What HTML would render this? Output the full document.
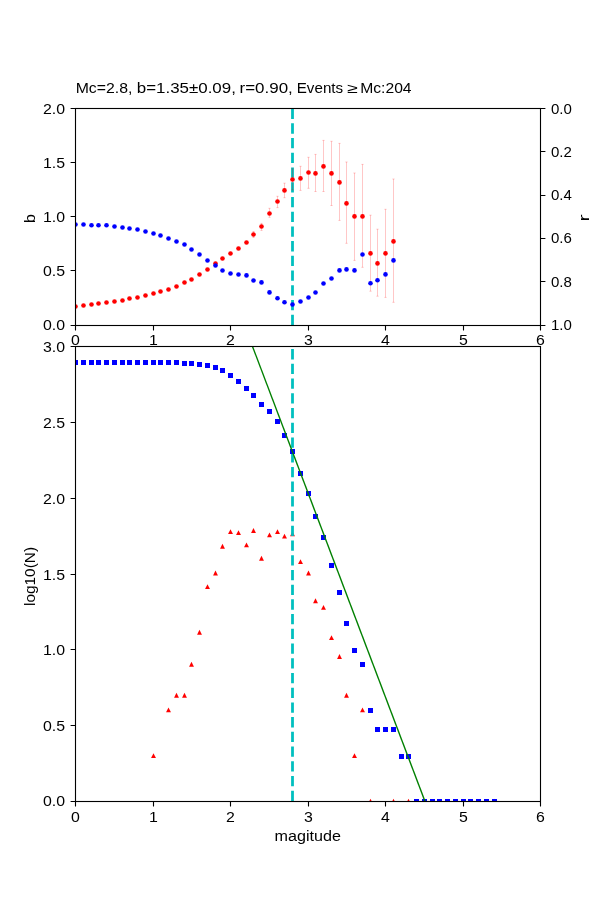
<!DOCTYPE html><html><head><meta charset="utf-8"><style>html,body{margin:0;padding:0;background:#fff;}svg{display:block;will-change:transform;}text{font-family:"Liberation Sans",sans-serif;fill:#000;}</style></head><body>
<svg width="600" height="900" viewBox="0 0 600 900">
<rect x="0" y="0" width="600" height="900" fill="#fff"/>
<defs><clipPath id="c1"><rect x="75" y="108" width="465" height="217"/></clipPath><clipPath id="c2"><rect x="75" y="346" width="465" height="455"/></clipPath></defs>
<g clip-path="url(#c1)">
<line x1="292.5" y1="325" x2="292.5" y2="108" stroke="#00bfbf" stroke-width="2.78" stroke-dasharray="10.28 4.44"/>
<path d="M253.5 231.5V237.5M252.4 231.5H254.6M252.4 237.5H254.6" stroke="#ff0000" stroke-opacity="0.22" stroke-width="1.0" fill="none"/>
<path d="M261.5 223.4V230.4M260.4 223.4H262.6M260.4 230.4H262.6" stroke="#ff0000" stroke-opacity="0.22" stroke-width="1.0" fill="none"/>
<path d="M269.5 208.3V217.3M268.4 208.3H270.6M268.4 217.3H270.6" stroke="#ff0000" stroke-opacity="0.22" stroke-width="1.0" fill="none"/>
<path d="M277.5 196.3V207.6M276.4 196.3H278.6M276.4 207.6H278.6" stroke="#ff0000" stroke-opacity="0.22" stroke-width="1.0" fill="none"/>
<path d="M284.5 183.2V197.7M283.4 183.2H285.6M283.4 197.7H285.6" stroke="#ff0000" stroke-opacity="0.22" stroke-width="1.0" fill="none"/>
<path d="M292.5 168.9V189.9M291.4 168.9H293.6M291.4 189.9H293.6" stroke="#ff0000" stroke-opacity="0.22" stroke-width="1.0" fill="none"/>
<path d="M300.5 166.3V190.4M299.4 166.3H301.6M299.4 190.4H301.6" stroke="#ff0000" stroke-opacity="0.22" stroke-width="1.0" fill="none"/>
<path d="M308.5 157.3V188.3M307.4 157.3H309.6M307.4 188.3H309.6" stroke="#ff0000" stroke-opacity="0.22" stroke-width="1.0" fill="none"/>
<path d="M315.5 154.4V191.5M314.4 154.4H316.6M314.4 191.5H316.6" stroke="#ff0000" stroke-opacity="0.22" stroke-width="1.0" fill="none"/>
<path d="M323.5 140.4V191.5M322.4 140.4H324.6M322.4 191.5H324.6" stroke="#ff0000" stroke-opacity="0.22" stroke-width="1.0" fill="none"/>
<path d="M331.5 141.3V205.5M330.4 141.3H332.6M330.4 205.5H332.6" stroke="#ff0000" stroke-opacity="0.22" stroke-width="1.0" fill="none"/>
<path d="M339.5 143.4V220.4M338.4 143.4H340.6M338.4 220.4H340.6" stroke="#ff0000" stroke-opacity="0.22" stroke-width="1.0" fill="none"/>
<path d="M346.5 162.0V243.3M345.4 162.0H347.6M345.4 243.3H347.6" stroke="#ff0000" stroke-opacity="0.22" stroke-width="1.0" fill="none"/>
<path d="M354.5 173.0V260.4M353.4 173.0H355.6M353.4 260.4H355.6" stroke="#ff0000" stroke-opacity="0.22" stroke-width="1.0" fill="none"/>
<path d="M362.5 164.4V267.3M361.4 164.4H363.6M361.4 267.3H363.6" stroke="#ff0000" stroke-opacity="0.22" stroke-width="1.0" fill="none"/>
<path d="M370.5 215.2V291.2M369.4 215.2H371.6M369.4 291.2H371.6" stroke="#ff0000" stroke-opacity="0.22" stroke-width="1.0" fill="none"/>
<path d="M377.5 229.2V296.2M376.4 229.2H378.6M376.4 296.2H378.6" stroke="#ff0000" stroke-opacity="0.22" stroke-width="1.0" fill="none"/>
<path d="M385.5 209.3V297.4M384.4 209.3H386.6M384.4 297.4H386.6" stroke="#ff0000" stroke-opacity="0.22" stroke-width="1.0" fill="none"/>
<path d="M393.5 179.0V302.3M392.4 179.0H394.6M392.4 302.3H394.6" stroke="#ff0000" stroke-opacity="0.22" stroke-width="1.0" fill="none"/>
<circle cx="75.5" cy="306.5" r="2.3" fill="#ff0000"/>
<circle cx="83.5" cy="305.5" r="2.3" fill="#ff0000"/>
<circle cx="91.5" cy="304.5" r="2.3" fill="#ff0000"/>
<circle cx="98.5" cy="303.5" r="2.3" fill="#ff0000"/>
<circle cx="106.5" cy="302.5" r="2.3" fill="#ff0000"/>
<circle cx="114.5" cy="301.5" r="2.3" fill="#ff0000"/>
<circle cx="122.5" cy="300.5" r="2.3" fill="#ff0000"/>
<circle cx="129.5" cy="298.5" r="2.3" fill="#ff0000"/>
<circle cx="137.5" cy="297.5" r="2.3" fill="#ff0000"/>
<circle cx="145.5" cy="295.5" r="2.3" fill="#ff0000"/>
<circle cx="153.5" cy="293.5" r="2.3" fill="#ff0000"/>
<circle cx="160.5" cy="291.5" r="2.3" fill="#ff0000"/>
<circle cx="168.5" cy="289.5" r="2.3" fill="#ff0000"/>
<circle cx="176.5" cy="286.5" r="2.3" fill="#ff0000"/>
<circle cx="184.5" cy="282.5" r="2.3" fill="#ff0000"/>
<circle cx="191.5" cy="279.5" r="2.3" fill="#ff0000"/>
<circle cx="199.5" cy="274.5" r="2.3" fill="#ff0000"/>
<circle cx="207.5" cy="269.5" r="2.3" fill="#ff0000"/>
<circle cx="215.5" cy="263.5" r="2.3" fill="#ff0000"/>
<circle cx="222.5" cy="258.5" r="2.3" fill="#ff0000"/>
<circle cx="230.5" cy="253.5" r="2.3" fill="#ff0000"/>
<circle cx="238.5" cy="248.5" r="2.3" fill="#ff0000"/>
<circle cx="246.5" cy="242.5" r="2.3" fill="#ff0000"/>
<circle cx="253.5" cy="234.5" r="2.3" fill="#ff0000"/>
<circle cx="261.5" cy="226.5" r="2.3" fill="#ff0000"/>
<circle cx="269.5" cy="213.5" r="2.3" fill="#ff0000"/>
<circle cx="277.5" cy="201.5" r="2.3" fill="#ff0000"/>
<circle cx="284.5" cy="190.4" r="2.3" fill="#ff0000"/>
<circle cx="292.5" cy="179.5" r="2.3" fill="#ff0000"/>
<circle cx="300.5" cy="178.4" r="2.3" fill="#ff0000"/>
<circle cx="308.5" cy="172.5" r="2.3" fill="#ff0000"/>
<circle cx="315.5" cy="173.4" r="2.3" fill="#ff0000"/>
<circle cx="323.5" cy="166.4" r="2.3" fill="#ff0000"/>
<circle cx="331.5" cy="173.4" r="2.3" fill="#ff0000"/>
<circle cx="339.5" cy="182.4" r="2.3" fill="#ff0000"/>
<circle cx="346.5" cy="203.4" r="2.3" fill="#ff0000"/>
<circle cx="354.5" cy="216.4" r="2.3" fill="#ff0000"/>
<circle cx="362.5" cy="216.4" r="2.3" fill="#ff0000"/>
<circle cx="370.5" cy="253.4" r="2.3" fill="#ff0000"/>
<circle cx="377.5" cy="263.4" r="2.3" fill="#ff0000"/>
<circle cx="385.5" cy="253.4" r="2.3" fill="#ff0000"/>
<circle cx="393.5" cy="241.4" r="2.3" fill="#ff0000"/>
<circle cx="75.5" cy="224.5" r="2.3" fill="#0000ff"/>
<circle cx="83.5" cy="224.5" r="2.3" fill="#0000ff"/>
<circle cx="91.5" cy="225.3" r="2.3" fill="#0000ff"/>
<circle cx="98.5" cy="225.3" r="2.3" fill="#0000ff"/>
<circle cx="106.5" cy="225.3" r="2.3" fill="#0000ff"/>
<circle cx="114.5" cy="226.5" r="2.3" fill="#0000ff"/>
<circle cx="122.5" cy="227.5" r="2.3" fill="#0000ff"/>
<circle cx="129.5" cy="228.5" r="2.3" fill="#0000ff"/>
<circle cx="137.5" cy="229.5" r="2.3" fill="#0000ff"/>
<circle cx="145.5" cy="231.5" r="2.3" fill="#0000ff"/>
<circle cx="153.5" cy="233.5" r="2.3" fill="#0000ff"/>
<circle cx="160.5" cy="235.5" r="2.3" fill="#0000ff"/>
<circle cx="168.5" cy="238.5" r="2.3" fill="#0000ff"/>
<circle cx="176.5" cy="241.5" r="2.3" fill="#0000ff"/>
<circle cx="184.5" cy="244.5" r="2.3" fill="#0000ff"/>
<circle cx="191.5" cy="249.5" r="2.3" fill="#0000ff"/>
<circle cx="199.5" cy="254.5" r="2.3" fill="#0000ff"/>
<circle cx="207.5" cy="260.5" r="2.3" fill="#0000ff"/>
<circle cx="215.5" cy="265.5" r="2.3" fill="#0000ff"/>
<circle cx="222.5" cy="270.5" r="2.3" fill="#0000ff"/>
<circle cx="230.5" cy="273.5" r="2.3" fill="#0000ff"/>
<circle cx="238.5" cy="274.5" r="2.3" fill="#0000ff"/>
<circle cx="246.5" cy="275.4" r="2.3" fill="#0000ff"/>
<circle cx="253.5" cy="280.5" r="2.3" fill="#0000ff"/>
<circle cx="261.5" cy="282.4" r="2.3" fill="#0000ff"/>
<circle cx="269.5" cy="292.4" r="2.3" fill="#0000ff"/>
<circle cx="277.5" cy="298.3" r="2.3" fill="#0000ff"/>
<circle cx="284.5" cy="302.3" r="2.3" fill="#0000ff"/>
<circle cx="292.5" cy="304.5" r="2.3" fill="#0000ff"/>
<circle cx="300.5" cy="301.5" r="2.3" fill="#0000ff"/>
<circle cx="308.5" cy="297.5" r="2.3" fill="#0000ff"/>
<circle cx="315.5" cy="292.5" r="2.3" fill="#0000ff"/>
<circle cx="323.5" cy="283.5" r="2.3" fill="#0000ff"/>
<circle cx="331.5" cy="278.5" r="2.3" fill="#0000ff"/>
<circle cx="339.5" cy="270.4" r="2.3" fill="#0000ff"/>
<circle cx="346.5" cy="269.4" r="2.3" fill="#0000ff"/>
<circle cx="354.5" cy="270.4" r="2.3" fill="#0000ff"/>
<circle cx="362.5" cy="254.5" r="2.3" fill="#0000ff"/>
<circle cx="370.5" cy="283.3" r="2.3" fill="#0000ff"/>
<circle cx="377.5" cy="280.3" r="2.3" fill="#0000ff"/>
<circle cx="385.5" cy="274.4" r="2.3" fill="#0000ff"/>
<circle cx="393.5" cy="260.4" r="2.3" fill="#0000ff"/>
</g>
<rect x="75.5" y="108.5" width="465" height="217" fill="none" stroke="#000" stroke-width="1.11"/>
<text x="75.50" y="344.90" text-anchor="middle" font-size="13.89" textLength="8.84" lengthAdjust="spacingAndGlyphs">0</text>
<text x="153.50" y="344.90" text-anchor="middle" font-size="13.89" textLength="8.84" lengthAdjust="spacingAndGlyphs">1</text>
<text x="230.50" y="344.90" text-anchor="middle" font-size="13.89" textLength="8.84" lengthAdjust="spacingAndGlyphs">2</text>
<text x="308.50" y="344.90" text-anchor="middle" font-size="13.89" textLength="8.84" lengthAdjust="spacingAndGlyphs">3</text>
<text x="385.50" y="344.90" text-anchor="middle" font-size="13.89" textLength="8.84" lengthAdjust="spacingAndGlyphs">4</text>
<text x="463.50" y="344.90" text-anchor="middle" font-size="13.89" textLength="8.84" lengthAdjust="spacingAndGlyphs">5</text>
<text x="540.50" y="344.90" text-anchor="middle" font-size="13.89" textLength="8.84" lengthAdjust="spacingAndGlyphs">6</text>
<text x="65.00" y="329.80" text-anchor="end" font-size="13.89" textLength="22.09" lengthAdjust="spacingAndGlyphs">0.0</text>
<text x="65.00" y="275.80" text-anchor="end" font-size="13.89" textLength="22.09" lengthAdjust="spacingAndGlyphs">0.5</text>
<text x="65.00" y="221.80" text-anchor="end" font-size="13.89" textLength="22.09" lengthAdjust="spacingAndGlyphs">1.0</text>
<text x="65.00" y="167.80" text-anchor="end" font-size="13.89" textLength="22.09" lengthAdjust="spacingAndGlyphs">1.5</text>
<text x="65.00" y="113.80" text-anchor="end" font-size="13.89" textLength="22.09" lengthAdjust="spacingAndGlyphs">2.0</text>
<text x="551.00" y="113.70" text-anchor="start" font-size="13.89" textLength="20.89" lengthAdjust="spacingAndGlyphs">0.0</text>
<text x="551.00" y="157.40" text-anchor="start" font-size="13.89" textLength="20.89" lengthAdjust="spacingAndGlyphs">0.2</text>
<text x="551.00" y="200.40" text-anchor="start" font-size="13.89" textLength="20.89" lengthAdjust="spacingAndGlyphs">0.4</text>
<text x="551.00" y="242.60" text-anchor="start" font-size="13.89" textLength="20.89" lengthAdjust="spacingAndGlyphs">0.6</text>
<text x="551.00" y="287.40" text-anchor="start" font-size="13.89" textLength="20.89" lengthAdjust="spacingAndGlyphs">0.8</text>
<text x="551.00" y="330.40" text-anchor="start" font-size="13.89" textLength="20.89" lengthAdjust="spacingAndGlyphs">1.0</text>
<path d="M75.5 325.5V330.4M153.5 325.5V330.4M230.5 325.5V330.4M308.5 325.5V330.4M385.5 325.5V330.4M463.5 325.5V330.4M540.5 325.5V330.4M70.6 325.5H75.5M70.6 270.5H75.5M70.6 216.5H75.5M70.6 162.5H75.5M70.6 108.5H75.5M540.5 108.5H545.4M540.5 151.5H545.4M540.5 195.5H545.4M540.5 238.5H545.4M540.5 281.5H545.4M540.5 325.5H545.4" stroke="#000" stroke-width="1.11"/>
<text x="0" y="0" font-size="13.89" transform="translate(35.000,222.967) rotate(-90) scale(1.1667,1.0)">b</text>
<text x="0" y="0" font-size="13.89" transform="translate(589.000,221.537) rotate(-90) scale(1.5365,1.0)">r</text>
<text x="0" y="0" font-size="13.89" transform="translate(75.678,92.700) scale(1.1385,1.0)">Mc=2.8,</text>
<text x="0" y="0" font-size="13.89" transform="translate(136.782,92.700) scale(1.2184,1.0)">b=1.35±0.09,</text>
<text x="0" y="0" font-size="13.89" transform="translate(239.529,92.700) scale(1.2212,1.0)">r=0.90,</text>
<text x="0" y="0" font-size="13.89" transform="translate(296.731,92.700) scale(1.0930,1.0)">Events</text>
<text x="0" y="0" font-size="13.89" transform="translate(347.218,93.000) scale(1.3975,1.0)">≥</text>
<text x="0" y="0" font-size="13.89" transform="translate(360.189,92.700) scale(1.1291,1.0)">Mc:204</text>
<g clip-path="url(#c2)">
<path d="M153.5 753.16L151.07 758.02H155.93Z" fill="#ff0000"/>
<path d="M168.5 707.51L166.07 712.37H170.93Z" fill="#ff0000"/>
<path d="M176.5 692.81L174.07 697.67H178.93Z" fill="#ff0000"/>
<path d="M184.5 692.81L182.07 697.67H186.93Z" fill="#ff0000"/>
<path d="M191.5 661.85L189.07 666.71H193.93Z" fill="#ff0000"/>
<path d="M199.5 629.87L197.07 634.73H201.93Z" fill="#ff0000"/>
<path d="M207.5 584.22L205.07 589.08H209.93Z" fill="#ff0000"/>
<path d="M215.5 570.54L213.07 575.40H217.93Z" fill="#ff0000"/>
<path d="M222.5 543.83L220.07 548.69H224.93Z" fill="#ff0000"/>
<path d="M230.5 529.13L228.07 533.99H232.93Z" fill="#ff0000"/>
<path d="M238.5 530.24L236.07 535.10H240.93Z" fill="#ff0000"/>
<path d="M246.5 542.47L244.07 547.33H248.93Z" fill="#ff0000"/>
<path d="M253.5 528.04L251.07 532.90H255.93Z" fill="#ff0000"/>
<path d="M261.5 555.84L259.07 560.70H263.93Z" fill="#ff0000"/>
<path d="M269.5 532.51L267.07 537.37H271.93Z" fill="#ff0000"/>
<path d="M277.5 529.13L275.07 533.99H279.93Z" fill="#ff0000"/>
<path d="M284.5 533.68L282.07 538.54H286.93Z" fill="#ff0000"/>
<path d="M292.5 531.37L290.07 536.23H294.93Z" fill="#ff0000"/>
<path d="M300.5 559.22L298.07 564.08H302.93Z" fill="#ff0000"/>
<path d="M308.5 570.54L306.07 575.40H310.93Z" fill="#ff0000"/>
<path d="M315.5 598.28L313.07 603.14H317.93Z" fill="#ff0000"/>
<path d="M323.5 604.88L321.07 609.74H325.93Z" fill="#ff0000"/>
<path d="M331.5 635.14L329.07 640.00H333.93Z" fill="#ff0000"/>
<path d="M339.5 654.09L337.07 658.95H341.93Z" fill="#ff0000"/>
<path d="M346.5 692.81L344.07 697.67H348.93Z" fill="#ff0000"/>
<path d="M354.5 753.16L352.07 758.02H356.93Z" fill="#ff0000"/>
<path d="M362.5 707.51L360.07 712.37H364.93Z" fill="#ff0000"/>
<path d="M370.5 798.82L368.07 803.68H372.93Z" fill="#ff0000"/>
<path d="M393.5 798.82L391.07 803.68H395.93Z" fill="#ff0000"/>
<path d="M408.5 798.82L406.07 803.68H410.93Z" fill="#ff0000"/>
<path d="M494.5 798.82L492.07 803.68H496.93Z" fill="#ff0000"/>
<line x1="292.5" y1="801" x2="292.5" y2="346" stroke="#00bfbf" stroke-width="2.78" stroke-dasharray="10.28 4.44"/>
<rect x="73.00" y="360" width="5.0" height="5.0" fill="#0000ff"/>
<rect x="81.00" y="360" width="5.0" height="5.0" fill="#0000ff"/>
<rect x="89.00" y="360" width="5.0" height="5.0" fill="#0000ff"/>
<rect x="96.00" y="360" width="5.0" height="5.0" fill="#0000ff"/>
<rect x="104.00" y="360" width="5.0" height="5.0" fill="#0000ff"/>
<rect x="112.00" y="360" width="5.0" height="5.0" fill="#0000ff"/>
<rect x="120.00" y="360" width="5.0" height="5.0" fill="#0000ff"/>
<rect x="127.00" y="360" width="5.0" height="5.0" fill="#0000ff"/>
<rect x="135.00" y="360" width="5.0" height="5.0" fill="#0000ff"/>
<rect x="143.00" y="360" width="5.0" height="5.0" fill="#0000ff"/>
<rect x="151.00" y="360" width="5.0" height="5.0" fill="#0000ff"/>
<rect x="158.00" y="360" width="5.0" height="5.0" fill="#0000ff"/>
<rect x="166.00" y="360" width="5.0" height="5.0" fill="#0000ff"/>
<rect x="174.00" y="360" width="5.0" height="5.0" fill="#0000ff"/>
<rect x="182.00" y="361" width="5.0" height="5.0" fill="#0000ff"/>
<rect x="189.00" y="361" width="5.0" height="5.0" fill="#0000ff"/>
<rect x="197.00" y="362" width="5.0" height="5.0" fill="#0000ff"/>
<rect x="205.00" y="363" width="5.0" height="5.0" fill="#0000ff"/>
<rect x="213.00" y="365" width="5.0" height="5.0" fill="#0000ff"/>
<rect x="220.00" y="368" width="5.0" height="5.0" fill="#0000ff"/>
<rect x="228.00" y="373" width="5.0" height="5.0" fill="#0000ff"/>
<rect x="236.00" y="379" width="5.0" height="5.0" fill="#0000ff"/>
<rect x="244.00" y="386" width="5.0" height="5.0" fill="#0000ff"/>
<rect x="251.00" y="393" width="5.0" height="5.0" fill="#0000ff"/>
<rect x="259.00" y="402" width="5.0" height="5.0" fill="#0000ff"/>
<rect x="267.00" y="409" width="5.0" height="5.0" fill="#0000ff"/>
<rect x="275.00" y="419" width="5.0" height="5.0" fill="#0000ff"/>
<rect x="282.00" y="433" width="5.0" height="5.0" fill="#0000ff"/>
<rect x="290.00" y="449" width="5.0" height="5.0" fill="#0000ff"/>
<rect x="298.00" y="471" width="5.0" height="5.0" fill="#0000ff"/>
<rect x="306.00" y="491" width="5.0" height="5.0" fill="#0000ff"/>
<rect x="313.00" y="514" width="5.0" height="5.0" fill="#0000ff"/>
<rect x="321.00" y="535" width="5.0" height="5.0" fill="#0000ff"/>
<rect x="329.00" y="563" width="5.0" height="5.0" fill="#0000ff"/>
<rect x="337.00" y="590" width="5.0" height="5.0" fill="#0000ff"/>
<rect x="344.00" y="621" width="5.0" height="5.0" fill="#0000ff"/>
<rect x="352.00" y="648" width="5.0" height="5.0" fill="#0000ff"/>
<rect x="360.00" y="662" width="5.0" height="5.0" fill="#0000ff"/>
<rect x="368.00" y="708" width="5.0" height="5.0" fill="#0000ff"/>
<rect x="375.00" y="727" width="5.0" height="5.0" fill="#0000ff"/>
<rect x="383.00" y="727" width="5.0" height="5.0" fill="#0000ff"/>
<rect x="391.00" y="727" width="5.0" height="5.0" fill="#0000ff"/>
<rect x="399.00" y="754" width="5.0" height="5.0" fill="#0000ff"/>
<rect x="406.00" y="754" width="5.0" height="5.0" fill="#0000ff"/>
<rect x="414.00" y="799" width="5.0" height="5.0" fill="#0000ff"/>
<rect x="422.00" y="799" width="5.0" height="5.0" fill="#0000ff"/>
<rect x="430.00" y="799" width="5.0" height="5.0" fill="#0000ff"/>
<rect x="437.00" y="799" width="5.0" height="5.0" fill="#0000ff"/>
<rect x="445.00" y="799" width="5.0" height="5.0" fill="#0000ff"/>
<rect x="453.00" y="799" width="5.0" height="5.0" fill="#0000ff"/>
<rect x="461.00" y="799" width="5.0" height="5.0" fill="#0000ff"/>
<rect x="468.00" y="799" width="5.0" height="5.0" fill="#0000ff"/>
<rect x="476.00" y="799" width="5.0" height="5.0" fill="#0000ff"/>
<rect x="484.00" y="799" width="5.0" height="5.0" fill="#0000ff"/>
<rect x="492.00" y="799" width="5.0" height="5.0" fill="#0000ff"/>
<line x1="252.5" y1="346.4" x2="425.0" y2="801.4" stroke="#008000" stroke-width="1.39"/>
</g>
<rect x="75.5" y="346.5" width="465" height="455" fill="none" stroke="#000" stroke-width="1.11"/>
<text x="75.50" y="821.50" text-anchor="middle" font-size="13.89" textLength="8.84" lengthAdjust="spacingAndGlyphs">0</text>
<text x="153.50" y="821.50" text-anchor="middle" font-size="13.89" textLength="8.84" lengthAdjust="spacingAndGlyphs">1</text>
<text x="230.50" y="821.50" text-anchor="middle" font-size="13.89" textLength="8.84" lengthAdjust="spacingAndGlyphs">2</text>
<text x="308.50" y="821.50" text-anchor="middle" font-size="13.89" textLength="8.84" lengthAdjust="spacingAndGlyphs">3</text>
<text x="385.50" y="821.50" text-anchor="middle" font-size="13.89" textLength="8.84" lengthAdjust="spacingAndGlyphs">4</text>
<text x="463.50" y="821.50" text-anchor="middle" font-size="13.89" textLength="8.84" lengthAdjust="spacingAndGlyphs">5</text>
<text x="540.50" y="821.50" text-anchor="middle" font-size="13.89" textLength="8.84" lengthAdjust="spacingAndGlyphs">6</text>
<text x="65.00" y="805.80" text-anchor="end" font-size="13.89" textLength="22.09" lengthAdjust="spacingAndGlyphs">0.0</text>
<text x="65.00" y="730.80" text-anchor="end" font-size="13.89" textLength="22.09" lengthAdjust="spacingAndGlyphs">0.5</text>
<text x="65.00" y="654.80" text-anchor="end" font-size="13.89" textLength="22.09" lengthAdjust="spacingAndGlyphs">1.0</text>
<text x="65.00" y="579.80" text-anchor="end" font-size="13.89" textLength="22.09" lengthAdjust="spacingAndGlyphs">1.5</text>
<text x="65.00" y="503.80" text-anchor="end" font-size="13.89" textLength="22.09" lengthAdjust="spacingAndGlyphs">2.0</text>
<text x="65.00" y="427.80" text-anchor="end" font-size="13.89" textLength="22.09" lengthAdjust="spacingAndGlyphs">2.5</text>
<text x="65.00" y="351.80" text-anchor="end" font-size="13.89" textLength="22.09" lengthAdjust="spacingAndGlyphs">3.0</text>
<path d="M75.5 801.5V806.4M153.5 801.5V806.4M230.5 801.5V806.4M308.5 801.5V806.4M385.5 801.5V806.4M463.5 801.5V806.4M540.5 801.5V806.4M70.6 801.5H75.5M70.6 725.5H75.5M70.6 649.5H75.5M70.6 574.5H75.5M70.6 498.5H75.5M70.6 422.5H75.5M70.6 346.5H75.5" stroke="#000" stroke-width="1.11"/>
<text x="0" y="0" font-size="13.89" transform="translate(274.537,840.600) scale(1.1628,1.0)">magitude</text>
<text x="0" y="0" font-size="13.89" transform="translate(34.900,606.011) rotate(-90) scale(1.1107,1.0)">log10(N)</text>
</svg></body></html>
